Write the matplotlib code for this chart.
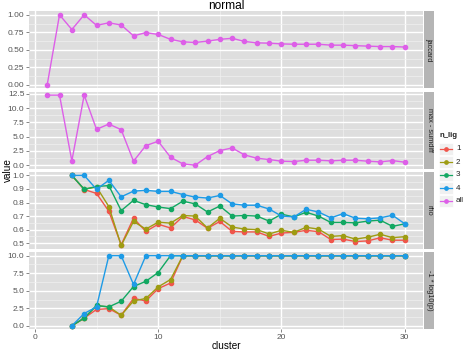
"""
Facet chart 'normal': jaccard / max-sumdiff / rho / -log10(p) per cluster, ggplot-like style
"""
import matplotlib
matplotlib.use('Agg')
import matplotlib.pyplot as plt
from matplotlib.ticker import MultipleLocator, FormatStrFormatter
from matplotlib.patches import Rectangle
from matplotlib.lines import Line2D

plt.rcParams['font.family'] = ['Liberation Sans', 'DejaVu Sans']

clusters_all = list(range(1, 31))
clusters_lig = list(range(3, 31))

jaccard_all = [0.00, 1.00, 0.79, 1.00, 0.85, 0.885, 0.855, 0.70, 0.745, 0.72,
               0.65, 0.615, 0.605, 0.625, 0.65, 0.665, 0.62, 0.60, 0.595, 0.585,
               0.58, 0.58, 0.58, 0.567, 0.567, 0.56, 0.553, 0.547, 0.547, 0.54]
sumdiff_all = [12.27, 12.27, 0.76, 12.27, 6.28, 7.2, 6.22, 0.70, 3.43, 4.19,
               1.40, 0.23, 0.0, 1.51, 2.56, 3.02, 1.8, 1.22, 0.99, 0.70,
               0.64, 0.87, 0.87, 0.76, 0.87, 0.87, 0.70, 0.58, 0.81, 0.52]

rho_1 = [1.0, 0.896, 0.867, 0.735, 0.488, 0.684, 0.587, 0.64, 0.612, 0.697,
         0.672, 0.61, 0.66, 0.587, 0.583, 0.583, 0.55, 0.575, 0.58, 0.595,
         0.585, 0.527, 0.53, 0.512, 0.517, 0.54, 0.522, 0.522]
rho_2 = [1.0, 0.898, 0.915, 0.77, 0.483, 0.66, 0.604, 0.655, 0.648, 0.704,
         0.70, 0.612, 0.684, 0.619, 0.604, 0.60, 0.568, 0.595, 0.58, 0.617,
         0.604, 0.55, 0.556, 0.53, 0.544, 0.566, 0.541, 0.548]
rho_3 = [1.0, 0.898, 0.918, 0.925, 0.74, 0.816, 0.784, 0.767, 0.755, 0.81,
         0.79, 0.73, 0.774, 0.70, 0.704, 0.70, 0.663, 0.714, 0.694, 0.728,
         0.70, 0.653, 0.653, 0.65, 0.663, 0.67, 0.624, 0.643]
rho_4 = [1.0, 1.0, 0.898, 0.964, 0.842, 0.884, 0.89, 0.882, 0.882, 0.859,
         0.84, 0.833, 0.852, 0.79, 0.78, 0.78, 0.752, 0.70, 0.694, 0.75,
         0.73, 0.687, 0.718, 0.684, 0.68, 0.687, 0.706, 0.643]

logp_1 = [0.0, 1.1, 2.33, 2.45, 1.5, 3.9, 3.55, 5.3, 6.1, 10.0,
          10.0, 10.0, 10.0, 10.0, 10.0, 10.0, 10.0, 10.0, 10.0, 10.0,
          10.0, 10.0, 10.0, 10.0, 10.0, 10.0, 10.0, 10.0]
logp_2 = [0.0, 1.1, 2.85, 2.7, 1.5, 3.55, 3.9, 5.55, 6.6, 10.0,
          10.0, 10.0, 10.0, 10.0, 10.0, 10.0, 10.0, 10.0, 10.0, 10.0,
          10.0, 10.0, 10.0, 10.0, 10.0, 10.0, 10.0, 10.0]
logp_3 = [0.0, 1.1, 2.9, 2.7, 3.5, 5.6, 6.35, 7.6, 10.0, 10.0,
          10.0, 10.0, 10.0, 10.0, 10.0, 10.0, 10.0, 10.0, 10.0, 10.0,
          10.0, 10.0, 10.0, 10.0, 10.0, 10.0, 10.0, 10.0]
logp_4 = [0.0, 1.75, 2.7, 10.0, 10.0, 5.9, 10.0, 10.0, 10.0, 10.0,
          10.0, 10.0, 10.0, 10.0, 10.0, 10.0, 10.0, 10.0, 10.0, 10.0,
          10.0, 10.0, 10.0, 10.0, 10.0, 10.0, 10.0, 10.0]

lig_labels = ['1', '2', '3', '4', 'all']
colors = ['#F0554B', '#9E9C12', '#12A862', '#1E9BE6', '#DD5FE8']

facet_names = ['jaccard', 'max - sumdiff', 'rho', '-1 * log10(p)']
facet_steps = [0.25, 2.5, 0.1, 2.5]
facet_fmt = ['%.2f', '%.1f', '%.1f', '%.1f']

panels = [
    [(clusters_all, jaccard_all, 4)],
    [(clusters_all, sumdiff_all, 4)],
    [(clusters_lig, rho_1, 0), (clusters_lig, rho_2, 1),
     (clusters_lig, rho_3, 2), (clusters_lig, rho_4, 3)],
    [(clusters_lig, logp_1, 0), (clusters_lig, logp_2, 1),
     (clusters_lig, logp_3, 2), (clusters_lig, logp_4, 3)],
]

W, H = 467, 351
fig = plt.figure(figsize=(W / 100, H / 100), dpi=100)

px_left, px_right = 29.3, 422.7
px_top, px_bottom = 11.3, 329.3
gap = 3.2
ph = (px_bottom - px_top - 3 * gap) / 4

panel_bg = '#DEDEDE'
strip_bg = '#B5B5B5'
tick_col = '#555555'

for i, series in enumerate(panels):
    top = px_top + i * (ph + gap)
    ax = fig.add_axes([px_left / W, 1 - (top + ph) / H,
                       (px_right - px_left) / W, ph / H])
    ax.set_facecolor(panel_bg)
    for s in ax.spines.values():
        s.set_visible(False)
    for xs, ys, ci in series:
        ax.plot(xs, ys, '-o', color=colors[ci], lw=1.0, ms=3.0, zorder=3)
    ax.set_xlim(-0.45, 31.45)
    ax.margins(y=0.05)
    ax.xaxis.set_major_locator(MultipleLocator(10))
    ax.xaxis.set_minor_locator(MultipleLocator(5))
    ax.yaxis.set_major_locator(MultipleLocator(facet_steps[i]))
    ax.yaxis.set_minor_locator(MultipleLocator(facet_steps[i] / 2))
    ax.yaxis.set_major_formatter(FormatStrFormatter(facet_fmt[i]))
    ax.grid(which='major', color='white', lw=1.0, zorder=1)
    ax.grid(which='minor', color='#F0F0F0', lw=0.5, zorder=1)
    ax.set_axisbelow(True)
    ax.tick_params(which='major', length=2, width=0.5, color=tick_col,
                   labelsize=6.0, labelcolor=tick_col, pad=1.5)
    ax.tick_params(which='minor', length=0)
    if i < 3:
        ax.tick_params(axis='x', which='both', labelbottom=False, length=0)
    else:
        ax.set_xlabel('cluster', fontsize=7.2, labelpad=0)

    # facet strip on the right
    sax = fig.add_axes([423.5 / W, 1 - (top + ph) / H, 11 / W, ph / H])
    sax.set_facecolor(strip_bg)
    sax.set_xticks([])
    sax.set_yticks([])
    for s in sax.spines.values():
        s.set_visible(False)
    sax.text(0.5, 0.5, facet_names[i], rotation=-90, ha='center', va='center',
             fontsize=5.3, color='#222222', transform=sax.transAxes)

fig.text(226 / W, 1 - 6 / H, 'normal', ha='center', va='center', fontsize=8.6)
fig.text(8 / W, 1 - 170 / H, 'value', ha='center', va='center',
         rotation=90, fontsize=7.2)

# legend drawn by hand in a pixel-unit axes
lax = fig.add_axes([436 / W, 1 - 210 / H, 31 / W, 82 / H])
lax.set_xlim(436, 467)
lax.set_ylim(210, 128)
lax.axis('off')
lax.text(440, 135.5, 'n_lig', fontsize=5.6, fontweight='bold',
         ha='left', va='center', color='#222222')
for k, (lab, col) in enumerate(zip(lig_labels, colors)):
    yc = 149 + k * 13
    lax.add_patch(Rectangle((439, yc - 6.3), 14, 12.6, facecolor='#F0F0F0',
                            edgecolor='white', lw=0.5))
    lax.add_line(Line2D([440, 452], [yc, yc], color=col, lw=0.9))
    lax.plot([446], [yc], 'o', color=col, ms=2.4)
    lax.text(456, yc, lab, fontsize=5.8, ha='left', va='center', color='#222222')

fig.savefig('out.png', dpi=100)
